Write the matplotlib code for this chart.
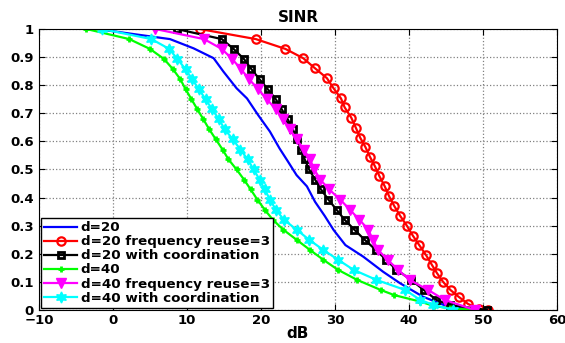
import matplotlib
matplotlib.use("Agg")
import matplotlib.pyplot as plt
from matplotlib.ticker import MultipleLocator, FuncFormatter

plt.rcParams['font.family'] = ['DejaVu Sans']
plt.rcParams['font.weight'] = 'bold'

# CDF of SINR (dB) for each scheme
d20_x = [-2.2, 7.7, 10.9, 13.6, 14.9, 16.7, 18.1, 19.6, 21.2, 22.5, 23.6, 24.8,
         26.2, 27.3, 28.6, 29.8, 31.4, 33.8, 36.5, 38.8, 41.9, 44.7, 48.2]
d20_y = [1.0, 0.964, 0.931, 0.896, 0.849, 0.789, 0.753, 0.694, 0.635, 0.575, 0.530, 0.480,
         0.440, 0.385, 0.335, 0.285, 0.231, 0.190, 0.136, 0.095, 0.047, 0.018, 0.0]

d20_reuse_x = [11.7, 19.3, 23.3, 25.7, 27.3, 28.9, 29.8, 30.8, 31.3, 32.2, 32.8, 33.4,
               34.1, 34.7, 35.4, 36.0, 36.7, 37.3, 38.0, 38.8, 39.7, 40.5, 41.4, 42.3,
               43.1, 43.8, 44.6, 45.6, 46.7, 48.0, 49.5, 50.7]
d20_reuse_y = [1.0, 0.964, 0.929, 0.896, 0.860, 0.825, 0.789, 0.753, 0.721, 0.684, 0.649, 0.613,
               0.580, 0.546, 0.511, 0.476, 0.441, 0.405, 0.370, 0.335, 0.300, 0.265, 0.230, 0.195,
               0.160, 0.130, 0.100, 0.071, 0.047, 0.021, 0.005, 0.0]

d20_coord_x = [8.6, 14.7, 16.3, 17.7, 18.7, 19.8, 20.9, 22.0, 22.8, 23.6, 24.3, 24.9, 25.4,
               25.9, 26.5, 27.3, 28.1, 29.1, 30.2, 31.3, 32.6, 34.0, 35.5, 36.9, 38.3, 40.3,
               42.0, 43.7, 45.5, 50.5]
d20_coord_y = [1.0, 0.964, 0.929, 0.893, 0.857, 0.821, 0.786, 0.750, 0.714, 0.679, 0.643, 0.607,
               0.571, 0.536, 0.500, 0.464, 0.429, 0.393, 0.357, 0.321, 0.286, 0.250, 0.214,
               0.179, 0.143, 0.107, 0.071, 0.036, 0.018, 0.0]

d40_x = [-3.6, 2.2, 5.0, 6.9, 8.1, 9.1, 9.8, 10.6, 11.4, 12.2, 13.0, 13.9, 14.8, 15.6, 16.7,
         17.7, 18.6, 19.5, 20.5, 21.6, 23.0, 24.8, 26.6, 28.4, 30.4, 33.0, 36.2, 38.0, 41.5,
         43.4, 45.5, 48.9]
d40_y = [1.0, 0.964, 0.929, 0.893, 0.857, 0.821, 0.786, 0.750, 0.714, 0.679, 0.643, 0.607,
         0.571, 0.536, 0.500, 0.464, 0.429, 0.393, 0.357, 0.321, 0.286, 0.250, 0.214, 0.179,
         0.143, 0.107, 0.071, 0.053, 0.030, 0.014, 0.006, 0.0]

d40_reuse_x = [5.7, 12.3, 14.7, 16.1, 17.3, 18.4, 19.6, 20.8, 22.0, 23.0, 23.9, 24.8, 25.8,
               26.6, 27.2, 28.0, 29.2, 30.7, 32.0, 33.3, 34.5, 35.1, 35.8, 37.1, 38.5, 40.1,
               42.6, 44.8, 48.9]
d40_reuse_y = [1.0, 0.964, 0.929, 0.893, 0.857, 0.821, 0.786, 0.750, 0.714, 0.679, 0.643, 0.607,
               0.571, 0.536, 0.500, 0.464, 0.429, 0.393, 0.357, 0.321, 0.286, 0.250, 0.214,
               0.179, 0.143, 0.107, 0.071, 0.036, 0.0]

d40_coord_x = [-1.5, 5.2, 7.6, 8.7, 9.8, 10.7, 11.6, 12.5, 13.4, 14.3, 15.1, 16.2, 17.2,
               18.2, 19.0, 19.8, 20.5, 21.2, 22.0, 23.1, 24.8, 26.5, 28.4, 30.4, 32.5, 35.6,
               39.5, 41.5, 43.3, 46.0]
d40_coord_y = [1.0, 0.964, 0.929, 0.893, 0.857, 0.821, 0.786, 0.750, 0.714, 0.679, 0.643, 0.607,
               0.571, 0.536, 0.500, 0.464, 0.429, 0.393, 0.357, 0.321, 0.286, 0.250, 0.214,
               0.179, 0.143, 0.107, 0.071, 0.036, 0.018, 0.0]

fig = plt.figure(figsize=(5.65, 3.43), dpi=100)
ax = fig.add_axes([0.069, 0.0962, 0.917, 0.8193])

lw = 1.6
ax.plot(d20_x, d20_y, '-', color='#0000ff', lw=lw, label='d=20')
ax.plot(d20_reuse_x, d20_reuse_y, '-o', color='#ff0000', lw=lw, ms=6,
        mfc='none', mew=1.6, label='d=20 frequency reuse=3')
ax.plot(d20_coord_x, d20_coord_y, '-s', color='black', lw=lw, ms=5,
        mfc='none', mew=2, label='d=20 with coordination')
ax.plot(d40_x, d40_y, '-+', color='#00ff00', lw=lw, ms=5, mew=2, label='d=40')
ax.plot(d40_reuse_x, d40_reuse_y, '-v', color='#ff00ff', lw=lw, ms=7,
        mec='#ff00ff', label='d=40 frequency reuse=3')
ax.plot(d40_coord_x, d40_coord_y, '-', marker=(6, 1, 0), color='#00ffff', lw=lw,
        ms=8, label='d=40 with coordination')

ax.set_xlim(-10, 60)
ax.set_ylim(0, 1)
ax.xaxis.set_major_locator(MultipleLocator(10))
ax.yaxis.set_major_locator(MultipleLocator(0.1))
ax.yaxis.set_major_formatter(FuncFormatter(lambda v, p: '%g' % round(v, 1)))
ax.tick_params(direction='in', top=True, right=True, labelsize=9.5, length=4, width=0.8)
ax.tick_params(axis='x', pad=3)
for lab in ax.get_xticklabels() + ax.get_yticklabels():
    lab.set_fontweight('bold')

ax.grid(True, linestyle=':', color='#808080', linewidth=0.9)
for s in ax.spines.values():
    s.set_linewidth(0.8)

ax.set_title('SINR', fontsize=11, fontweight='bold', pad=5)
ax.set_xlabel('dB', fontsize=11, fontweight='bold', labelpad=-1)

leg = ax.legend(loc='lower left', fontsize=9.7, borderaxespad=0.15, fancybox=False,
                framealpha=1, edgecolor='black', handlelength=2.4, labelspacing=0.08,
                borderpad=0.25, handletextpad=0.3)
leg.get_frame().set_linewidth(1.0)

fig.savefig('out.png', dpi=100)
